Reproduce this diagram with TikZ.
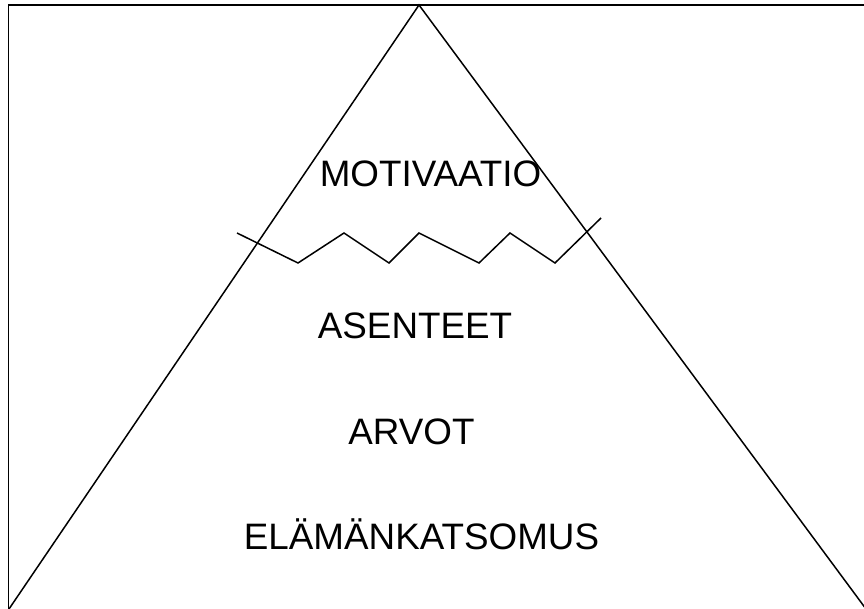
\documentclass[tikz,border=0pt]{standalone}
\usepackage{fontspec}
\setmainfont{Liberation Sans}
\usepackage{xcolor}
\definecolor{ibink}{HTML}{000000}
\usepackage{tikz}
\usetikzlibrary{positioning}
\tikzset{
  ibframe/.style ={draw=ibink, line width=1.8pt, line cap=rect},
  ibedge/.style  ={draw=ibink, line width=1.5pt, line join=miter},
  ibwave/.style  ={draw=ibink, line width=1.5pt, line join=miter},
  iblbl/.style   ={anchor=base, inner sep=0pt, text=ibink,
                   font=\fontsize{36.8}{44}\selectfont},
}

\begin{document}
\begin{tikzpicture}[x=1pt, y=-1pt]
  \useasboundingbox (0,0) rectangle (864,609);
  \draw[ibframe] (8.5,609) -- (8.5,5) -- (864,5);
  \draw[ibedge] (9,609) -- (419,5) -- (866,609);
  \draw[ibwave] (237,233) -- (298,263) -- (344,233) -- (389,263) -- (419,233)
    -- (479,263) -- (510,233) -- (555,263) -- (601,218);
  \foreach \x/\y/\n/\s in {430.5/187/motiv/MOTIVAATIO, 415/338/asent/ASENTEET,
                           411.5/444/arvot/ARVOT, 421.5/549/elama/ELÄMÄNKATSOMUS}{
    \node[iblbl] (\n) at (\x,\y) {\s};}
\end{tikzpicture}
\end{document}
